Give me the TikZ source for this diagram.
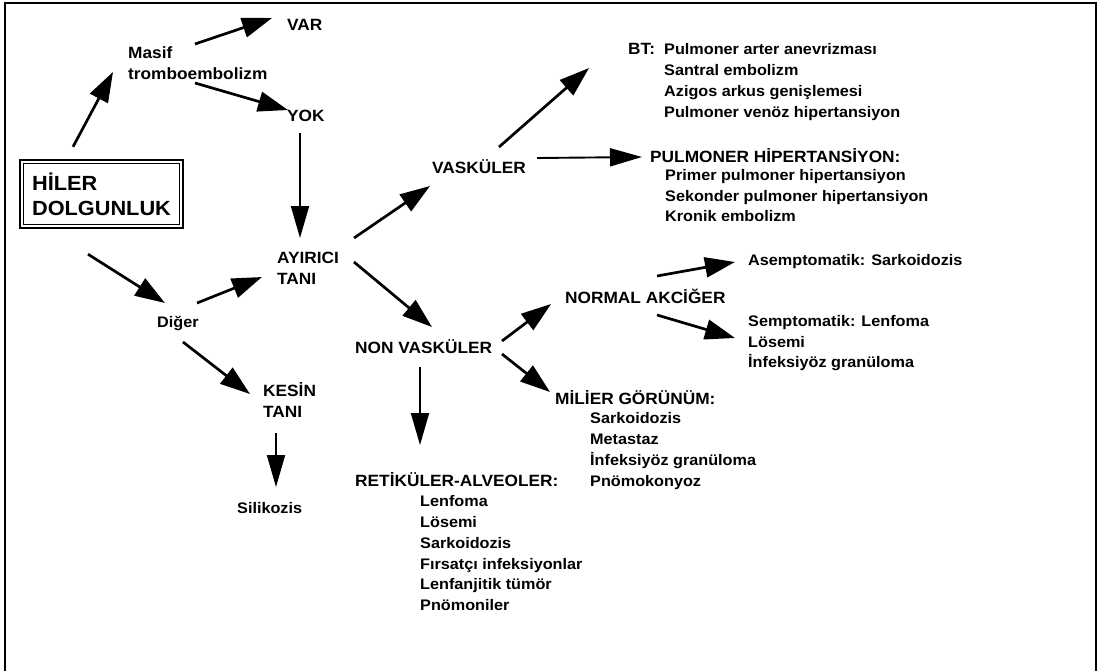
\documentclass[tikz,border=0pt]{standalone}
\usepackage{fontspec}
\usetikzlibrary{arrows.meta}
\newfontfamily\lab{Liberation Sans}[FakeStretch=1.06]
\tikzset{
  txt/.style={font=\lab\bfseries\fontsize{15.3}{20.8}\selectfont, inner sep=0pt, align=left},
  hdr/.style={font=\lab\bfseries\fontsize{16.3}{21}\selectfont, inner sep=0pt, align=left},
  arr/.style={line width=2.7pt, -{Triangle[length=30pt,width=20pt]}},
  varr/.style={line width=1.9pt, -{Triangle[length=32pt,width=18pt]}},
}
\begin{document}
\begin{tikzpicture}[x=1pt,y=-1pt]
\useasboundingbox (0,0) rectangle (1102,670);
\clip (0,0) rectangle (1102,670);
\fill[white] (0,0) rectangle (1102,670);
% outer frame (its lower edge runs below the page)
\draw[line width=1.5pt] (5,3) rectangle (1096,700);

% title box with double border
\node[draw, line width=2.4pt, minimum width=163pt, minimum height=68pt,
      font=\lab\bfseries\fontsize{20.5}{25}\selectfont, align=left, inner sep=0pt]
  (hiler) at (101.5,194) {HİLER\\DOLGUNLUK};
\draw[line width=1.1pt] ([shift={(4.5,4.5)}]hiler.north west) rectangle ([shift={(-4.5,-4.5)}]hiler.south east);

% left branch
\node[hdr, anchor=north west] (masif) at (128,46) {Masif\\tromboembolizm};
\node[hdr, anchor=west] (var) at (287,25) {VAR};
\node[hdr, anchor=west] (yok) at (287,116) {YOK};
\node[hdr, anchor=north west] (ayirici) at (277,252) {AYIRICI\\TANI};
\node[txt, anchor=west] (diger) at (157,323) {Diğer};
\node[hdr, anchor=north west] (kesin) at (263,382) {KESİN\\TANI};
\node[txt, anchor=west] (silikozis) at (237,508) {Silikozis};

% vascular branch
\node[hdr, anchor=west] (vask) at (432,167) {VASKÜLER};
\node[hdr, anchor=west] (bt) at (628,49) {BT:};
\node[txt, anchor=north west] (btlist) at (664,43.5)
  {Pulmoner arter anevrizması\\Santral embolizm\\Azigos arkus genişlemesi\\Pulmoner venöz hipertansiyon};
\node[hdr, anchor=west] (pulm) at (650,156) {PULMONER HİPERTANSİYON:};
\node[txt, anchor=north west] (pulmlist) at (665,169)
  {Primer pulmoner hipertansiyon\\Sekonder pulmoner hipertansiyon\\Kronik embolizm};

% non-vascular branch
\node[hdr, anchor=west] (non) at (355,347) {NON VASKÜLER};
\node[hdr, anchor=west] (normal) at (565,296) {NORMAL AKCİĞER};
\node[txt, anchor=west] (asemp) at (748,262) {Asemptomatik: Sarkoidozis};
\node[txt, anchor=north west] (semp) at (748,315)
  {Semptomatik: Lenfoma\\Lösemi\\İnfeksiyöz granüloma};
\node[hdr, anchor=west] (milier) at (555,398) {MİLİER GÖRÜNÜM:};
\node[txt, anchor=north west] (milierlist) at (590,412.5)
  {Sarkoidozis\\Metastaz\\İnfeksiyöz granüloma\\Pnömokonyoz};
\node[hdr, anchor=west] (retik) at (355,480) {RETİKÜLER-ALVEOLER:};
\node[txt, anchor=north west] (retiklist) at (420,495.5)
  {Lenfoma\\Lösemi\\Sarkoidozis\\Fırsatçı infeksiyonlar\\Lenfanjitik tümör\\Pnömoniler};

% connectors
\draw[arr] ([shift={(-28.5,-12)}]hiler.north) -- ([shift={(-15,26)}]masif.north west);
\draw[arr] ([shift={(67,-2)}]masif.north west) -- ([shift={(-15,-7)}]var.west);
\draw[arr] ([shift={(67,37)}]masif.north west) -- ([shift={(1,-6)}]yok.west);
\draw[varr] ([shift={(13,17)}]yok.west) -- ([shift={(23,-14)}]ayirici.north west);
\draw[arr] ([shift={(-13.5,25)}]hiler.south) -- ([shift={(8,-20)}]diger.west);
\draw[arr] ([shift={(40,-20)}]diger.west) -- ([shift={(-15,25)}]ayirici.north west);
\draw[arr] ([shift={(26,19)}]diger.west) -- ([shift={(-13,12)}]kesin.north west);
\draw[varr] ([shift={(13,51)}]kesin.north west) -- ([shift={(39,-21)}]silikozis.west);
\draw[arr] ([shift={(77,-14)}]ayirici.north west) -- ([shift={(-2,19)}]vask.west);
\draw[arr] ([shift={(67,-20)}]vask.west) -- ([shift={(-39,19)}]bt.west);
\draw[varr] ([shift={(105,-9)}]vask.west) -- ([shift={(-8,1)}]pulm.west);
\draw[arr] ([shift={(77,10)}]ayirici.north west) -- ([shift={(77,-20)}]non.west);
\draw[arr] ([shift={(147,-6)}]non.west) -- ([shift={(-14,8)}]normal.west);
\draw[arr] ([shift={(147,7)}]non.west) -- ([shift={(-5,-6)}]milier.west);
\draw[varr] ([shift={(65,20)}]non.west) -- ([shift={(65,-35)}]retik.west);
\draw[arr] ([shift={(92,-20)}]normal.west) -- ([shift={(-13,0)}]asemp.west);
\draw[arr] ([shift={(92,19)}]normal.west) -- ([shift={(-13,23)}]semp.north west);
\end{tikzpicture}
\end{document}
